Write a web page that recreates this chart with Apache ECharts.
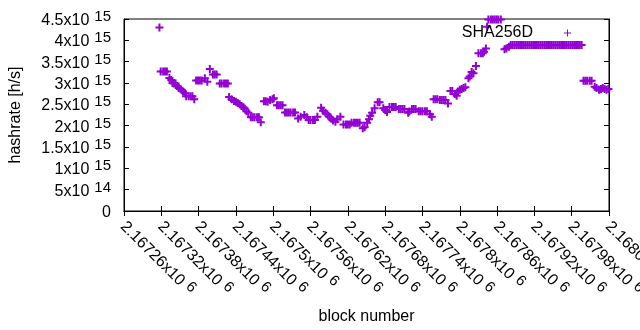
<!DOCTYPE html>
<html>
<head>
<meta charset="utf-8">
<script src="https://cdn.jsdelivr.net/npm/echarts@6/dist/echarts.min.js"></script>
<style>
  html, body { margin: 0; padding: 0; background: #fff; }
  #chart { width: 640px; height: 330px; }
</style>
</head>
<body>
<div id="chart"></div>
<script>
// block heights and estimated hashrate (in 10^15 h/s)
const blocks = [
  2167317, 2167319, 2167323, 2167326, 2167329, 2167333, 2167336, 2167338, 2167340, 2167343,
  2167345, 2167348, 2167352, 2167355, 2167358, 2167360, 2167364, 2167367, 2167370, 2167373,
  2167376, 2167379, 2167382, 2167385, 2167390, 2167394, 2167398, 2167403, 2167406, 2167409,
  2167414, 2167417, 2167421, 2167424, 2167427, 2167429, 2167433, 2167437, 2167440, 2167443,
  2167446, 2167449, 2167452, 2167454, 2167457, 2167460, 2167464, 2167467, 2167470, 2167474,
  2167477, 2167480, 2167485, 2167488, 2167491, 2167495, 2167499, 2167501, 2167506, 2167509,
  2167512, 2167515, 2167519, 2167522, 2167525, 2167528, 2167532, 2167535, 2167540, 2167544,
  2167550, 2167554, 2167557, 2167560, 2167564, 2167567, 2167571, 2167577, 2167580, 2167584,
  2167587, 2167590, 2167593, 2167596, 2167600, 2167603, 2167608, 2167613, 2167617, 2167620,
  2167623, 2167626, 2167630, 2167633, 2167636, 2167639, 2167644, 2167647, 2167651, 2167654,
  2167656, 2167659, 2167663, 2167668, 2167671, 2167677, 2167680, 2167683, 2167687, 2167691,
  2167694, 2167697, 2167702, 2167705, 2167708, 2167711, 2167717, 2167719, 2167723, 2167726,
  2167729, 2167734, 2167737, 2167740, 2167744, 2167747, 2167752, 2167755, 2167758, 2167761,
  2167764, 2167768, 2167771, 2167774, 2167777, 2167781, 2167785, 2167788, 2167792, 2167795,
  2167797, 2167800, 2167803, 2167806, 2167809, 2167814, 2167816, 2167819, 2167822, 2167826,
  2167830, 2167834, 2167837, 2167839, 2167842, 2167844, 2167846, 2167850, 2167853, 2167856,
  2167859, 2167862, 2167866, 2167872, 2167875, 2167879,
  2167882, 2167885, 2167888, 2167891, 2167894, 2167897, 2167900, 2167903, 2167906, 2167909,
  2167912, 2167915, 2167918, 2167921, 2167924, 2167927, 2167930, 2167933, 2167936, 2167939,
  2167942, 2167945, 2167948, 2167951, 2167954, 2167957, 2167960, 2167963, 2167966, 2167969,
  2167972, 2167975, 2167978, 2167981, 2167984, 2167987, 2167990, 2167993, 2167996,
  2167999, 2168002, 2168005, 2168009, 2168012, 2168017, 2168020, 2168024, 2168027, 2168030,
  2168033, 2168036, 2168039
]
const hashratePH = [
  4.30, 3.27, 3.27, 3.27, 3.27, 3.12, 3.07, 3.00, 2.99, 2.99,
  2.93, 2.88, 2.85, 2.80, 2.76, 2.69, 2.69, 2.69, 2.69, 2.62,
  3.06, 3.06, 3.06, 3.06, 3.11, 3.03, 3.33, 3.20, 3.20, 3.20,
  2.99, 2.99, 2.99, 2.99, 2.99, 2.67, 2.62, 2.58, 2.56, 2.53,
  2.50, 2.46, 2.43, 2.40, 2.34, 2.30, 2.20, 2.20, 2.20, 2.20,
  2.20, 2.08, 2.57, 2.57, 2.56, 2.60, 2.62, 2.64, 2.48, 2.48,
  2.48, 2.48, 2.31, 2.31, 2.31, 2.31, 2.31, 2.31, 2.17, 2.21,
  2.25, 2.20, 2.13, 2.13, 2.13, 2.13, 2.21, 2.42, 2.35, 2.30,
  2.27, 2.21, 2.17, 2.12, 2.09, 2.15, 2.21, 2.03, 2.03, 2.03,
  2.03, 2.07, 2.07, 2.07, 2.07, 2.07, 1.94, 1.96, 2.07, 2.15,
  2.23, 2.30, 2.41, 2.55, 2.55, 2.41, 2.37, 2.32, 2.44, 2.44,
  2.44, 2.44, 2.39, 2.39, 2.39, 2.39, 2.30, 2.33, 2.39, 2.39,
  2.39, 2.34, 2.34, 2.34, 2.34, 2.34, 2.27, 2.21, 2.62, 2.62,
  2.62, 2.60, 2.60, 2.60, 2.60, 2.52, 2.81, 2.81, 2.74, 2.70,
  2.80, 2.84, 2.86, 2.88, 2.90, 3.11, 3.15, 3.26, 3.23, 3.40,
  3.70, 3.70, 3.70, 3.73, 3.81, 4.32, 4.49, 4.49, 4.49, 4.49,
  4.49, 4.49, 4.49, 3.79, 3.81, 3.85,
  3.89, 3.89, 3.89, 3.89, 3.89, 3.89, 3.89, 3.89, 3.89, 3.89,
  3.89, 3.89, 3.89, 3.89, 3.89, 3.89, 3.89, 3.89, 3.89, 3.89,
  3.89, 3.89, 3.89, 3.89, 3.89, 3.89, 3.89, 3.89, 3.89, 3.89,
  3.89, 3.89, 3.89, 3.89, 3.89, 3.89, 3.89, 3.89, 3.89,
  3.05, 3.05, 3.05, 3.05, 3.05, 2.91, 2.88, 2.84, 2.86, 2.88,
  2.86, 2.84, 2.86
]
const seriesName = 'SHA256D'
const xMin = 2167260, xMax = 2168040, xStep = 60
const yMin = 0, yMax = 4.5e15, yStep = 5e14

const purple = '#9400d3'
const font = 'Liberation Sans'
const plusThick = 'path://M3,0h2v8h-2z M0,3h8v2h-8z'
const plusThin = 'path://M3,0h1v7h-1z M0,3h7v1h-7z'

// gnuplot style "2.16726x10^6"
function sci(v) {
  if (v === 0) return '{b|0}'
  const e = Math.floor(Math.log10(v) + 1e-9)
  const m = parseFloat((v / Math.pow(10, e)).toFixed(5))
  return '{b|' + m + 'x10}{s|' + e + '}'
}

const rich = {
  b: { fontFamily: font, fontSize: 16, color: '#000', lineHeight: 19, verticalAlign: 'bottom' },
  s: { fontFamily: font, fontSize: 15, color: '#000', lineHeight: 10, verticalAlign: 'top', padding: [0, 0, 0, 5] }
}

const chart = echarts.init(document.getElementById('chart'), null, { renderer: 'canvas' })
const option = {
  animation: false,
  backgroundColor: '#fff',
  grid: {
    left: 124, right: 31, top: 19, bottom: 119,
    outerBoundsMode: 'none',
    containLabel: false,
    show: true, borderColor: '#000', borderWidth: 1, backgroundColor: 'transparent'
  },
  legend: {
    data: [seriesName],
    right: 64,
    top: 20,
    align: 'right',
    itemWidth: 7,
    itemHeight: 7,
    icon: plusThin,
    textStyle: { fontFamily: font, fontSize: 16, color: '#000', padding: [0, 26, 0, 0] }
  },
  xAxis: [
    {
      type: 'value',
      min: xMin, max: xMax, interval: xStep,
      name: 'block number',
      nameLocation: 'middle',
      nameGap: 98,
      nameTextStyle: { fontFamily: font, fontSize: 16, color: '#000' },
      axisLine: { show: true, lineStyle: { color: '#000', width: 1 } },
      axisTick: { show: true, inside: true, length: 5, lineStyle: { color: '#000' } },
      splitLine: { show: false },
      axisLabel: {
        rotate: -45,
        margin: 12,
        showMinLabel: true,
        showMaxLabel: true,
        hideOverlap: false,
        formatter: sci,
        rich: rich
      }
    },
    {
      type: 'value', position: 'top',
      min: xMin, max: xMax, interval: xStep,
      axisLine: { show: true, lineStyle: { color: '#000', width: 1 } },
      axisTick: { show: true, inside: true, length: 5, lineStyle: { color: '#000' } },
      axisLabel: { show: false },
      splitLine: { show: false }
    }
  ],
  yAxis: [
    {
      type: 'value',
      min: yMin, max: yMax, interval: yStep,
      name: 'hashrate [h/s]',
      nameLocation: 'middle',
      nameGap: 100,
      nameTextStyle: { fontFamily: font, fontSize: 16, color: '#000' },
      axisLine: { show: true, lineStyle: { color: '#000', width: 1 } },
      axisTick: { show: true, inside: true, length: 5, lineStyle: { color: '#000' } },
      splitLine: { show: false },
      axisLabel: {
        margin: 13,
        showMinLabel: true,
        showMaxLabel: true,
        hideOverlap: false,
        formatter: sci,
        rich: rich
      }
    },
    {
      type: 'value', position: 'right',
      min: yMin, max: yMax, interval: yStep,
      axisLine: { show: true, lineStyle: { color: '#000', width: 1 } },
      axisTick: { show: true, inside: true, length: 5, lineStyle: { color: '#000' } },
      axisLabel: { show: false },
      splitLine: { show: false }
    }
  ],
  series: [
    {
      name: seriesName,
      type: 'scatter',
      clip: false,
      symbol: plusThick,
      symbolSize: 8,
      itemStyle: { color: purple, opacity: 1 },
      data: blocks.map((b, i) => [b, hashratePH[i] * 1e15])
    }
  ]
}
chart.setOption(option)
</script>
</body>
</html>
